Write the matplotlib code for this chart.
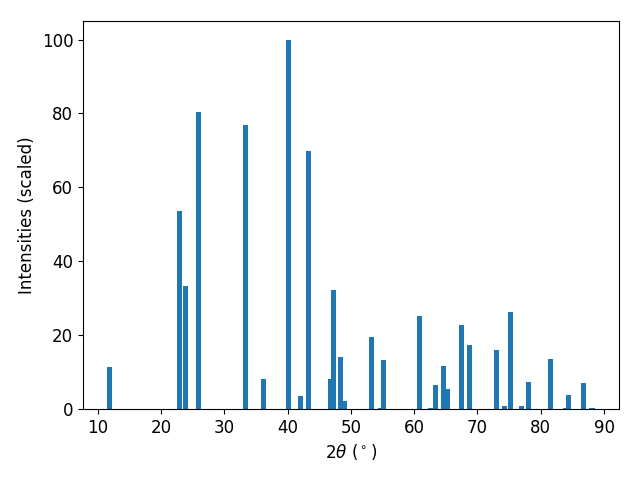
import matplotlib
matplotlib.use("Agg")
import matplotlib.pyplot as plt

# diffraction peaks
two_theta = [11.9, 22.9, 23.9, 25.9, 33.3, 36.2, 40.1, 42.0, 43.3,
             46.8, 47.2, 48.3, 48.9, 53.2, 54.7, 55.2, 60.8, 62.6,
             63.4, 64.6, 65.3, 67.5, 68.7, 73.0, 74.3, 75.2, 77.0,
             78.1, 81.5, 83.9, 84.4, 86.8, 88.1]
intensity = [11.4, 53.7, 33.3, 80.5, 77.0, 8.1, 100.0, 3.5, 69.9,
             8.1, 32.2, 14.1, 2.2, 19.5, 0.3, 13.3, 25.2, 0.3,
             6.5, 11.7, 5.4, 22.8, 17.3, 16.0, 0.8, 26.3, 0.8,
             7.3, 13.6, 0.3, 3.8, 7.0, 0.3]

plt.rcParams['font.size'] = 12

fig, ax = plt.subplots(figsize=(6.4, 4.8), dpi=100)
ax.bar(two_theta, intensity, width=0.8)
ax.set_xlabel(r"2$\theta$ ($^\circ$)")
ax.set_ylabel("Intensities (scaled)")
fig.subplots_adjust(left=0.1297, right=0.967, top=0.956, bottom=0.148)
fig.savefig("out.png")
